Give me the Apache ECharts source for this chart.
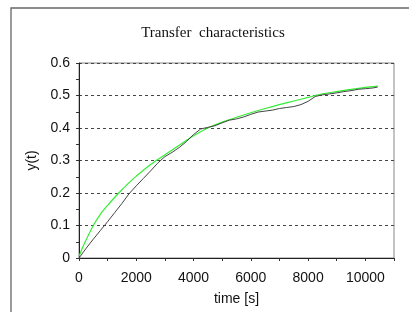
<!DOCTYPE html>
<html>
<head>
<meta charset="utf-8">
<script src="https://cdn.jsdelivr.net/npm/echarts@6/dist/echarts.min.js"></script>
<style>
html, body { margin: 0; padding: 0; background: #fff; }
#chart { width: 409px; height: 312px; }
</style>
</head>
<body>
<div id="chart"></div>
<script>
// model response (green) and measured response (dark)
const modelTime = [0, 100, 250, 500, 750, 1000, 1250, 1500, 1750, 2000, 2500, 3000, 3500, 4000, 4500, 5000,
  5500, 6000, 6500, 7000, 7500, 8000, 8500, 9000, 9500, 10000, 10430];
const modelY = [0.005, 0.027, 0.056, 0.10, 0.135, 0.162, 0.187, 0.21, 0.232, 0.252, 0.288, 0.318, 0.347, 0.376, 0.40, 0.418,
  0.433, 0.447, 0.46, 0.472, 0.483, 0.494, 0.505, 0.512, 0.519, 0.525, 0.529];

const measTime = [0, 250, 500, 750, 1000, 1250, 1500, 1750, 2000, 2250, 2500, 2750, 3000, 3250, 3500, 3750,
  4000, 4250, 4500, 4750, 5000, 5250, 5500, 5750, 6000, 6250, 6500, 6750, 7000, 7250, 7500, 7750,
  8000, 8250, 8500, 8750, 9000, 9250, 9500, 9750, 10000, 10250, 10430];
const measY = [0, 0.03, 0.058, 0.085, 0.112, 0.14, 0.168, 0.198, 0.222, 0.245, 0.268, 0.292, 0.312, 0.325, 0.34, 0.358,
  0.38, 0.397, 0.402, 0.407, 0.416, 0.424, 0.428, 0.434, 0.442, 0.449, 0.452, 0.455, 0.46, 0.463, 0.466, 0.472,
  0.482, 0.497, 0.502, 0.505, 0.508, 0.512, 0.515, 0.519, 0.521, 0.523, 0.526];

const zip = (xs, ys) => xs.map((x, i) => [x, ys[i]]);

const chart = echarts.init(document.getElementById('chart'));
chart.setOption({
  animation: false,
  backgroundColor: '#fff',
  graphic: [
    {
      type: 'rect',
      shape: { x: 11, y: 8, width: 500, height: 400 },
      style: { fill: 'none', stroke: '#666', lineWidth: 1.3 },
      silent: true
    },
    {
      type: 'text',
      x: 213, y: 33,
      style: {
        text: 'Transfer  characteristics',
        font: '15px "Liberation Serif", "DejaVu Serif", serif',
        fill: '#111',
        textAlign: 'center',
        textVerticalAlign: 'middle'
      }
    }
  ],
  grid: {
    left: 79, top: 63, right: 15, bottom: 54,
    show: true,
    borderColor: '#888',
    borderWidth: 1
  },
  xAxis: {
    type: 'value',
    min: 0, max: 11000, interval: 2000,
    name: 'time [s]',
    nameLocation: 'middle',
    nameGap: 34,
    nameTextStyle: { fontSize: 14, color: '#111', fontFamily: 'Liberation Sans' },
    axisLine: { lineStyle: { color: '#222', width: 1 } },
    axisTick: { show: true, inside: false, length: 3, lineStyle: { color: '#333' } },
    minorTick: { show: true, splitNumber: 2, length: 3, lineStyle: { color: '#333' } },
    axisLabel: {
      fontSize: 14, color: '#111', fontFamily: 'Liberation Sans', margin: 13,
      formatter: v => (v > 10000 ? '' : String(v))
    },
    splitLine: { show: false }
  },
  yAxis: {
    type: 'value',
    min: 0, max: 0.6, interval: 0.1,
    name: 'y(t)',
    nameLocation: 'middle',
    nameGap: 40,
    nameRotate: 90,
    nameTextStyle: { fontSize: 14, color: '#111', fontFamily: 'Liberation Sans' },
    axisLine: { show: true, lineStyle: { color: '#222', width: 1 } },
    axisTick: { show: true, length: 3, lineStyle: { color: '#333' } },
    minorTick: { show: true, splitNumber: 2, length: 3, lineStyle: { color: '#333' } },
    axisLabel: {
      fontSize: 14, color: '#111', fontFamily: 'Liberation Sans', margin: 9,
      formatter: v => String(Math.round(v * 10) / 10)
    },
    splitLine: {
      show: true,
      lineStyle: { color: '#444', type: [3, 3], width: 1 }
    }
  },
  series: [
    {
      type: 'line',
      data: zip(measTime, measY),
      showSymbol: false,
      lineStyle: { color: '#444', width: 1 },
      z: 3
    },
    {
      type: 'line',
      data: zip(modelTime, modelY),
      showSymbol: false,
      smooth: 0.3,
      lineStyle: { color: '#33ee33', width: 1.2 },
      z: 2
    }
  ]
});
</script>
</body>
</html>
